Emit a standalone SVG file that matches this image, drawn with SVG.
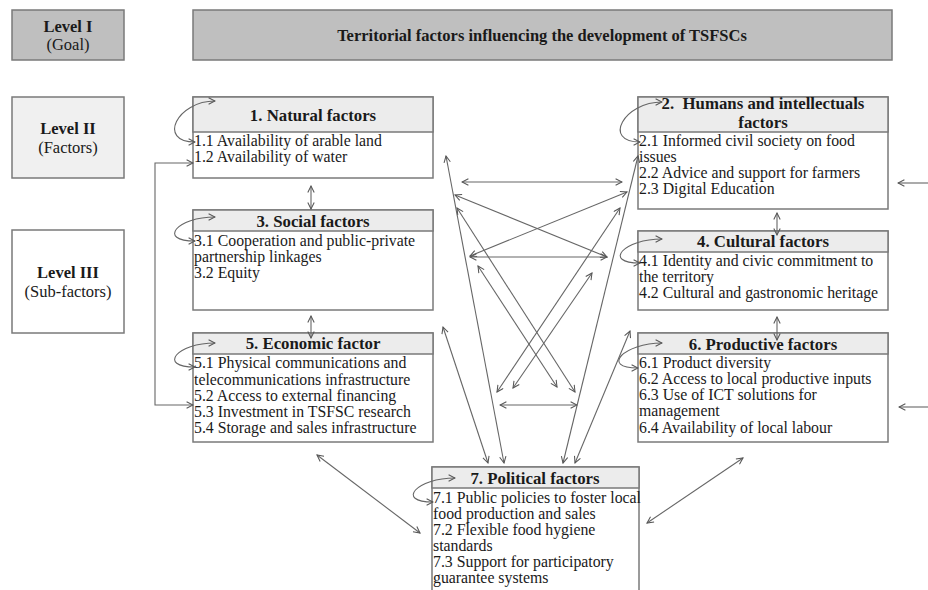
<svg xmlns="http://www.w3.org/2000/svg" width="928" height="590" viewBox="0 0 928 590">
<defs>
<style>
.bx{fill:#ffffff;stroke:#7a7a7a;stroke-width:1.5}
.hd{fill:#ececec;stroke:#7a7a7a;stroke-width:1.5}
.dk{fill:#bfbfbf;stroke:#7a7a7a;stroke-width:1.5}
.lt{fill:#f0f0f0;stroke:#7a7a7a;stroke-width:1.5}
text{font-family:"Liberation Serif","Times New Roman",serif;fill:#1a1a1a}
.h{font-size:16.8px;font-weight:bold;text-anchor:middle}
.b{font-size:15.8px}
.lv{font-size:16.5px;text-anchor:middle}
.lvb{font-size:16.5px;font-weight:bold;text-anchor:middle}
.t{font-size:16.5px;font-weight:bold;text-anchor:middle}
.c{fill:none;stroke:#666;stroke-width:1.1;marker-start:url(#ah);marker-end:url(#ah)}
.c1{fill:none;stroke:#666;stroke-width:1.1;marker-end:url(#ah)}
</style>
<marker id="ah" viewBox="0 0 10 10" refX="9" refY="5" markerWidth="8" markerHeight="8" markerUnits="userSpaceOnUse" orient="auto-start-reverse">
<path d="M1,1 L9,5 L1,9" fill="none" stroke="#555" stroke-width="1.3"/>
</marker>
</defs>
<rect width="928" height="590" fill="#ffffff"/>

<g id="level1">
<rect class="dk" x="12" y="10" width="112" height="50"/>
<text class="lvb" x="68" y="32">Level I</text>
<text class="lv" x="68" y="50">(Goal)</text>
</g>
<g id="title">
<rect class="dk" x="193" y="10" width="699" height="50"/>
<text class="t" x="542" y="41">Territorial factors influencing the development of TSFSCs</text>
</g>
<g id="level2">
<rect class="lt" x="12" y="97" width="112" height="81"/>
<text class="lvb" x="68" y="134">Level II</text>
<text class="lv" x="68" y="153">(Factors)</text>
</g>
<g id="level3">
<rect class="bx" x="12" y="230" width="112" height="103"/>
<text class="lvb" x="68" y="278">Level III</text>
<text class="lv" x="68" y="297">(Sub-factors)</text>
</g>

<g id="n1">
<rect class="bx" x="193" y="97" width="240" height="81"/>
<rect class="hd" x="193" y="97" width="240" height="35"/>
<text class="h" x="313" y="121">1. Natural factors</text>
<text class="b" x="194" y="146">1.1 Availability of arable land</text>
<text class="b" x="194" y="162">1.2 Availability of water</text>
</g>
<g id="n2">
<rect class="bx" x="638" y="97" width="250" height="112"/>
<rect class="hd" x="638" y="97" width="250" height="35"/>
<text class="h" x="763" y="109" xml:space="preserve">2.  Humans and intellectuals<tspan x="763" dy="19">factors</tspan></text>
<text class="b" x="639" y="146">2.1 Informed civil society on food</text>
<text class="b" x="639" y="162">issues</text>
<text class="b" x="639" y="178">2.2 Advice and support for farmers</text>
<text class="b" x="639" y="194">2.3 Digital Education</text>
</g>
<g id="n3">
<rect class="bx" x="193" y="210" width="240" height="100"/>
<rect class="hd" x="193" y="210" width="240" height="21"/>
<text class="h" x="313" y="227">3. Social factors</text>
<text class="b" x="194" y="246">3.1 Cooperation and public-private</text>
<text class="b" x="194" y="262">partnership linkages</text>
<text class="b" x="194" y="278">3.2 Equity</text>
</g>
<g id="n4">
<rect class="bx" x="638" y="231" width="250" height="79"/>
<rect class="hd" x="638" y="231" width="250" height="21"/>
<text class="h" x="763" y="247">4. Cultural factors</text>
<text class="b" x="639" y="266">4.1 Identity and civic commitment to</text>
<text class="b" x="639" y="282">the territory</text>
<text class="b" x="639" y="298">4.2 Cultural and gastronomic heritage</text>
</g>
<g id="n5">
<rect class="bx" x="193" y="333" width="240" height="109"/>
<rect class="hd" x="193" y="333" width="240" height="21"/>
<text class="h" x="313" y="349">5. Economic factor</text>
<text class="b" x="194" y="368">5.1 Physical communications and</text>
<text class="b" x="194" y="385">telecommunications infrastructure</text>
<text class="b" x="194" y="401">5.2 Access to external financing</text>
<text class="b" x="194" y="417">5.3 Investment in TSFSC research</text>
<text class="b" x="194" y="433">5.4 Storage and sales infrastructure</text>
</g>
<g id="n6">
<rect class="bx" x="638" y="333" width="250" height="109"/>
<rect class="hd" x="638" y="333" width="250" height="21"/>
<text class="h" x="763" y="350">6. Productive factors</text>
<text class="b" x="639" y="368">6.1 Product diversity</text>
<text class="b" x="639" y="384">6.2 Access to local productive inputs</text>
<text class="b" x="639" y="400">6.3 Use of ICT solutions for</text>
<text class="b" x="639" y="416">management</text>
<text class="b" x="639" y="433">6.4 Availability of local labour</text>
</g>
<g id="n7">
<rect class="bx" x="432" y="467" width="207" height="130"/>
<rect class="hd" x="432" y="467" width="207" height="21"/>
<text class="h" x="535" y="484">7. Political factors</text>
<text class="b" x="433" y="503">7.1 Public policies to foster local</text>
<text class="b" x="433" y="519">food production and sales</text>
<text class="b" x="433" y="535">7.2 Flexible food hygiene</text>
<text class="b" x="433" y="551">standards</text>
<text class="b" x="433" y="567">7.3 Support for participatory</text>
<text class="b" x="433" y="583">guarantee systems</text>
</g>

<g id="connectors">
<path class="c" d="M195,142 C157,142 177,101 215,101"/>
<path class="c" d="M195,241 C157,241 177,217 215,217"/>
<path class="c" d="M195,367 C157,367 177,343 215,343"/>
<path class="c" d="M640,142 C602,142 624,102 662,102"/>
<path class="c" d="M640,263 C602,263 624,239 662,239"/>
<path class="c" d="M638,368 C600,368 624,343 662,343"/>
<path class="c" d="M433,502 C395,502 417,478 455,478"/>
<line class="c" x1="311" y1="186" x2="311" y2="209"/>
<line class="c" x1="311" y1="316" x2="311" y2="338"/>
<line class="c" x1="777" y1="213" x2="777" y2="235"/>
<line class="c" x1="777" y1="317" x2="777" y2="340"/>
<polyline class="c" points="193,163 155,163 155,405 193,405"/>
<line class="c1" x1="928" y1="183" x2="898" y2="183"/>
<line class="c1" x1="928" y1="407" x2="899" y2="407"/>
<line class="c" x1="462" y1="182" x2="622" y2="182"/>
<line class="c" x1="455" y1="195" x2="607" y2="257"/>
<line class="c" x1="627" y1="192" x2="470" y2="256"/>
<line class="c" x1="470" y1="257" x2="607" y2="257"/>
<line class="c" x1="457" y1="208" x2="575" y2="392"/>
<line class="c" x1="478" y1="266" x2="557" y2="387"/>
<line class="c" x1="620" y1="208" x2="497" y2="392"/>
<line class="c" x1="592" y1="273" x2="513" y2="388"/>
<line class="c" x1="500" y1="405" x2="577" y2="405"/>
<line class="c" x1="446" y1="156" x2="504" y2="463"/>
<line class="c" x1="638" y1="156" x2="563" y2="463"/>
<line class="c" x1="443" y1="327" x2="488" y2="463"/>
<line class="c" x1="630" y1="331" x2="575" y2="463"/>
<line class="c" x1="317" y1="455" x2="420" y2="533"/>
<line class="c" x1="743" y1="458" x2="647" y2="523"/>
</g>
</svg>
